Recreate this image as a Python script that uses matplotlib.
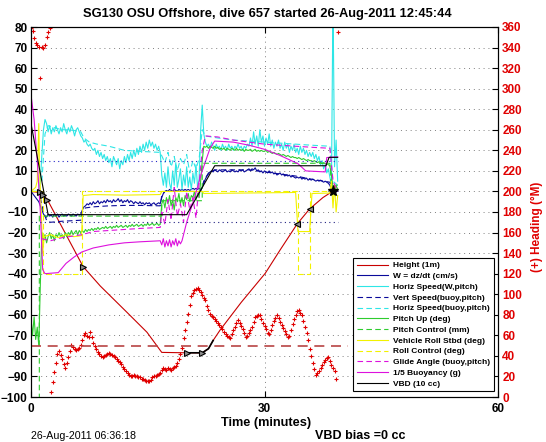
import numpy as np
import matplotlib
matplotlib.use("Agg")
import matplotlib.pyplot as plt

plt.rcParams['font.family'] = ['Liberation Sans', 'DejaVu Sans']

# logged series, one value every 0.2 minutes
step = 0.2

w_dzdt = [0, -1, -2, -3, -4, -5, -7, -9, -11, -12,
          -12.5, -11, -12, -11.5, -12.5, -11, -12, -11, -12.5, -11.5,
          -11, -12, -11.5, -12, -11, -11.5, -12, -11, -11.5, -12,
          -11, -11.5, -11, -9, -7.5, -7, -6, -6.5, -5.5, -6.5,
          -5, -6, -5.5, -4.5, -6, -5, -5.5, -4.5, -5.5, -4,
          -5, -4.5, -5.5, -4, -5, -4.5, -3.5, -5, -4, -5.5,
          -4.5, -5, -4, -5.5, -4.5, -5, -6, -5, -5.5, -6,
          -5, -6, -5.5, -6.5, -5.5, -6, -5.5, -6.5, -6, -5.5,
          -6.5, -6, -5.5, -6, -3, -1, 0, 0.5, 0, 1,
          0.5, 0, 1, 0.5, 0, 1, 0.5, 1, 0.5, 1,
          0.5, 1, 0.5, 1, 1.5, 1, 1.5, 1, 1.5, 1,
          2, 4, 6, 7.5, 8.5, 9.5, 10, 9.5, 10.5, 10,
          9.5, 10.5, 10, 9.5, 10, 10.5, 9.5, 10, 9.5, 10.5,
          10, 9.5, 10, 9.5, 10.5, 10, 10.5, 9.5, 10, 10.5,
          11, 10, 11, 10.5, 11.5, 10, 10.5, 9.5, 10, 9,
          10, 9.5, 9, 10, 9, 9.5, 8.5, 9, 8, 8.5,
          9, 8, 8.5, 7.5, 8, 7.5, 8, 7, 7.5, 7,
          6.5, 7, 6.5, 7, 6, 6.5, 6, 6.5, 5.5, 6,
          5.5, 6, 5.5, 5, 5.5, 5, 5.5, 5, 4.5, 5,
          4.5, 4, 3, 1, 0, -1, 0, 0]

horiz_w = [0, 0, 0, 0, 0, 1, 5, 18, 30, 35,
           33, 29, 32, 28, 31, 29, 32, 30, 28, 31,
           29, 33, 30, 28, 31, 29, 32, 30, 27, 30,
           31, 29, 27, 26, 24, 25, 23, 22, 23, 21,
           20, 21, 18, 20, 17, 19, 16, 18, 15, 17,
           14, 16, 12, 17, 15, 13, 16, 11, 15, 13,
           17, 14, 18, 15, 19, 16, 20, 17, 21, 18,
           22, 19, 23, 20, 24, 21, 25, 22, 24, 21,
           23, 20, 22, 19, 8, 3, 9, 2, 12, 4,
           1, 10, 3, 14, 2, 6, 11, 1, 8, 3,
           12, 2, 7, 1, 9, 4, 13, 2, 6, 30,
           42, 28, 24, 22, 23, 21, 24, 22, 20, 23,
           21, 22, 20, 23, 21, 22, 20, 23, 21, 22,
           20, 22, 21, 23, 21, 22, 20, 22, 21, 23,
           22, 26, 22, 29, 23, 27, 22, 30, 24, 27,
           22, 26, 23, 28, 22, 25, 21, 24, 22, 25,
           21, 23, 20, 24, 21, 23, 19, 22, 20, 23,
           19, 21, 18, 22, 19, 21, 18, 20, 17, 19,
           17, 19, 16, 18, 15, 17, 13, 15, 11, 13,
           9, 11, 7, 3, 95, 12, 25, 5]

pitch_up = [-62, -70, -61, -72, -66, -75, -45, -20, -24, -21,
            -25, -22, -20, -23, -21, -24, -21, -22, -20, -22,
            -21, -23, -20, -22, -20, -21, -19, -21, -20, -19,
            -21, -19, -20, -19, -20, -18.5, -19.5, -18.5, -19, -18,
            -19, -18, -18.5, -17.5, -18.5, -18, -17.5, -18, -17, -18,
            -17.5, -17, -18, -17, -17.5, -16.5, -17.5, -17, -16.5, -17.5,
            -17, -16.5, -17.5, -16.5, -17, -16, -17, -16.5, -16, -17,
            -16.5, -16, -17, -16, -16.5, -15.5, -16.5, -16, -15.5, -16.5,
            -16, -15.5, -16.5, -16, -6, -4, -8, -3, -6, -2,
            -7, -4, -9, -3, -5, -1, -6, -3, -7, -2,
            -4, -1, -5, -2, -3, 0, -4, -1, -3, 5,
            15, 22, 21.5, 22, 21, 22, 21.5, 21, 22, 21,
            21.5, 20.5, 21, 20.5, 21, 20, 21, 20.5, 20, 21,
            20.5, 20, 21, 20, 20.5, 20, 20.5, 19.5, 20.5, 20,
            20, 20.5, 19.5, 20, 20.5, 19.5, 20, 19.5, 20, 19.5,
            19.5, 20, 19, 19.5, 19, 18.5, 19, 18.5, 18, 18.5,
            18, 17.5, 18, 17.5, 17, 17.5, 17, 16.5, 17, 16.5,
            16.5, 16, 16.5, 16, 15.5, 16, 15.5, 15, 15.5, 15,
            15, 14.5, 15, 14.5, 14, 14.5, 14, 13.5, 14, 13.5,
            13.5, 13, 12.5, 8, 2, -2, 3, 1]

heading = [359, 356, 349, 344, 342, 341, 310, 341, 340, 342,
           350, 355, 359, 5, 15, 24, 33, 42, 45, 41,
           37, 32, 28, 33, 39, 45, 51, 49, 47, 46,
           47, 48, 51, 55, 60, 62, 59, 58, 63, 58,
           53, 50, 47, 44, 42, 40, 39, 40, 41, 42,
           43, 42, 41, 40, 39, 37, 35, 34, 32, 29,
           27, 25, 23, 21, 20, 20, 21, 20, 20, 19,
           19, 18, 18, 17, 16, 16, 16, 17, 19, 20,
           20, 21, 22, 23, 26, 28, 27, 26, 28, 27,
           26, 28, 29, 30, 33, 37, 42, 48, 57, 65,
           73, 81, 90, 98, 101, 104, 105, 106, 104, 102,
           99, 96, 94, 89, 85, 81, 79, 78, 76, 74,
           72, 70, 68, 66, 63, 61, 59, 58, 57, 61,
           65, 68, 72, 75, 72, 69, 66, 62, 58, 59,
           62, 65, 68, 73, 78, 79, 80, 80, 76, 72,
           69, 66, 62, 61, 65, 70, 74, 77, 80, 77,
           73, 70, 67, 64, 61, 58, 59, 65, 71, 76,
           80, 84, 85, 82, 80, 74, 68, 62, 55, 47,
           40, 33, 27, 21, 23, 25, 28, 31, 34, 36,
           38, 39, 35, 31, 28, 25, 18, 355]

# slower series given at their turning points
height_t = [0.0, 1.1, 1.5, 2.1, 6.7, 8.9, 12.3, 14.9, 16.8, 20.0, 22.0,
            22.8, 23.4, 24.3, 27.0, 30.1, 32.0, 34.2, 35.8, 37.5, 38.8]
height = [0.0, -0.5, -1.5, -4.0, -36.6, -46.0, -58.7, -68.5, -78.3, -78.5,
          -78.5, -76.5, -72.5, -67.4, -54.0, -39.8, -28.5, -15.8, -8.5, -3.0, 0.2]

vert_buoy_t = [1.2, 1.6, 2.0, 2.5, 4.0, 6.4, 6.6, 7.0, 8.0, 10.0, 12.0, 14.0,
               16.6, 16.8, 17.2, 21.8, 22.2, 22.8, 23.6, 26.0, 28.0, 30.0,
               32.0, 34.0, 36.0, 38.4, 38.8, 39.4]
vert_buoy = [-3, -10, -14, -15, -14.5, -14, -10, -8, -7.5, -7, -6.8, -6.8,
             -7, -2, 0, 0, 5, 9, 10.5, 10.5, 10.5, 9.5, 8.5, 7.5, 6, 4.5, 0, 0]

horiz_buoy_t = [1.4, 1.8, 2.2, 3.0, 4.0, 5.0, 6.4, 6.8, 7.5, 8.5, 10.0, 12.0,
                14.0, 16.6, 17.2, 17.6, 18.0, 18.4, 18.8, 19.2, 19.6, 20.0,
                20.4, 20.8, 21.2, 21.6, 22.0, 22.4, 24.0, 26.0, 28.0, 30.0,
                32.0, 34.0, 36.0, 38.4, 38.8, 39.4]
horiz_buoy = [5, 28, 32, 31, 30, 30, 29, 26, 24, 23, 22, 20, 19.5, 19, 14,
              19, 12, 17, 10, 16, 13, 18, 9, 15, 11, 16, 30, 27, 26, 25,
              24.5, 24, 23.5, 23, 22.5, 22, 5, 3]

pitch_ctl_t = [0.0, 1.07, 1.07, 16.8, 16.8, 22.0, 22.0, 38.4, 38.6, 39.4]
pitch_ctl = [-110, -110, -12, -12, -4.5, -4.5, 13.7, 13.7, 3, 3]

roll_t = [0.0, 0.6, 0.8, 1.0, 1.1, 1.3, 1.5, 1.7, 2.5, 3.5, 4.5, 5.5, 6.5,
          6.7, 8.0, 12.0, 16.6, 16.8, 22.0, 22.2, 34.0, 34.3, 35.8, 36.1,
          38.4, 38.6, 38.8, 39.0, 39.2, 39.4]
roll = [0, 2, 5, 33, 10, -8, -30, -22, -21, -22.5, -21, -22, -21.5, -2,
        -1.5, -1.8, -1.5, 0, 0, -1, -0.5, -19.5, -19.5, -1, -0.8, 5, -8,
        3, -10, -2]

roll_ctl_t = [0.0, 1.55, 1.55, 6.6, 6.6, 34.3, 34.3, 35.8, 35.8, 39.4]
roll_ctl = [0, 0, -40, -40, 0, 0, -40, -40, 0, 0]

glide_t = [1.4, 2.5, 4.0, 6.6, 8.0, 10.0, 12.0, 14.0, 16.6, 16.8, 17.2,
           17.6, 18.0, 18.4, 18.8, 19.2, 19.6, 20.0, 20.4, 20.8, 21.2,
           21.6, 22.0, 22.4, 24.0, 26.0, 28.0, 30.0, 32.0, 34.0, 36.0,
           38.4, 38.8, 39.4]
glide = [-23, -24, -22.5, -21, -19.5, -19, -18.5, -18, -17.5, -10, -16, -4,
         -14, 2, -12, -6, -15, 0, -9, -3, -13, 4, 20, 27, 26.5, 25, 24, 23,
         22.5, 22, 21.5, 21, 5, 0]

buoy_t = [0.0, 0.4, 0.8, 1.2, 1.5, 1.8, 3.5, 4.5, 5.5, 6.5, 8.0, 10.0, 12.0,
          14.0, 16.6, 16.8, 17.0, 17.2, 17.4, 17.6, 17.8, 18.0, 18.2, 18.4,
          18.6, 18.8, 19.0, 19.2, 19.4, 20.0, 21.0, 22.0, 23.0, 23.6, 26.0,
          28.0, 30.0, 32.0, 34.3, 35.3, 37.8, 38.0, 39.4]
buoy = [47, 35, 15, -10, -38, -40, -39.5, -35, -32, -29.5, -27.5, -26, -25,
        -24.5, -24, -26, -23, -27, -24, -26.5, -23.5, -27, -24, -26, -23,
        -26.5, -24, -25.5, -24, -15, -3, 10, 21, 24.5, 24, 22.5, 20.5, 17.5,
        13.5, 10, 9.5, 16.5, 16.8]

vbd_t = [0.0, 2.2, 20.0, 23.6, 37.9, 38.3, 39.4]
vbd = [33, -11.3, -11.3, 12.5, 12.5, 16.6, 16.6]

w_limit = 15          # cm/s guide lines
heading_target = 50   # deg
dive_end = 39.4
heading_line_end = 40.7

t_w = np.arange(len(w_dzdt)) * step
t_hw = np.arange(len(horiz_w)) * step
t_pitch = np.arange(len(pitch_up)) * step
t_head = np.arange(len(heading)) * step

fig = plt.figure(figsize=(5.46, 4.42), dpi=100)
ax = fig.add_axes([31/546, 1-397/442, 467/546, 370/442])
ax2 = ax.twinx()

dash = (5, 3)
lw = 0.8
c_red = '#c80000'
c_navy = '#0a0a9a'
c_cyan = '#2ee6e6'
c_green = '#2ecc2e'
c_yellow = '#f2f200'
c_mag = '#dd11dd'

grid_kw = dict(color='0.5', linestyle=(0, (1, 4)), linewidth=0.7)
for yv in range(-90, 80, 10):
    ax.axhline(yv, **grid_kw, zorder=0)
ax.axvline(30, **grid_kw, zorder=0)

h_height, = ax.plot(height_t, height, color=c_red, lw=lw)
h_w, = ax.plot(t_w, w_dzdt, color=c_navy, lw=lw)
h_hw, = ax.plot(t_hw, horiz_w, color=c_cyan, lw=lw)
h_vb, = ax.plot(vert_buoy_t, vert_buoy, color=c_navy, lw=lw, dashes=dash)
h_hb, = ax.plot(horiz_buoy_t, horiz_buoy, color=c_cyan, lw=lw, dashes=dash)
h_pu, = ax.plot(t_pitch, pitch_up, color=c_green, lw=lw)
h_pc, = ax.plot(pitch_ctl_t, pitch_ctl, color=c_green, lw=lw, dashes=dash)
h_roll, = ax.plot(roll_t, roll, color=c_yellow, lw=lw)
h_rc, = ax.plot(roll_ctl_t, roll_ctl, color=c_yellow, lw=lw, dashes=dash)
h_ga, = ax.plot(glide_t, glide, color=c_mag, lw=lw, dashes=dash)
h_bu, = ax.plot(buoy_t, buoy, color=c_mag, lw=lw)
h_vbd, = ax.plot(vbd_t, vbd, color='k', lw=lw)

# guide lines
ax.plot([0, dive_end], [w_limit, w_limit], color='#2828c8', lw=0.8,
        linestyle=(0, (1, 3)))
ax.plot([0, dive_end], [-w_limit, -w_limit], color='#202080', lw=0.8,
        linestyle=(0, (1, 3)))

# pump segment and event markers on the height trace
ht = np.array(height_t)
hv = np.array(height)
ax.plot(ht[9:13], hv[9:13], color='k', lw=1.2)
ax.plot(ht[[1, 2, 3, 4, 9, 10]], hv[[1, 2, 3, 4, 9, 10]], linestyle='none',
        marker='>', ms=5, mfc='0.55', mec='k', mew=0.8)
ax.plot(ht[[17, 18]], hv[[17, 18]], linestyle='none',
        marker='<', ms=5, mfc='0.55', mec='k', mew=0.8)
ax.plot(ht[[20]], hv[[20]], linestyle='none', marker='*', ms=8, color='k')

ax.set_xlim(0, 60)
ax.set_ylim(-100, 80)
ax.set_xticks([0, 30, 60])
ax.set_yticks(range(-100, 81, 10))
ax.tick_params(direction='in', length=4, width=0.8, top=True, right=False,
               labelsize=8.5, pad=2.5)
ax.tick_params(axis='x', pad=4.5)
for lbl in ax.get_xticklabels() + ax.get_yticklabels():
    lbl.set_fontweight('bold')

# heading on the right axis
ax2.plot(t_head, heading, linestyle='none', marker='+', ms=3.5, mew=0.8,
         color='#e00000')
ax2.plot([0, heading_line_end], [heading_target, heading_target],
         color='#b84444', lw=1.2, dashes=(6, 4))
ax2.set_ylim(0, 360)
ax2.set_yticks(range(0, 361, 20))
ax2.tick_params(direction='in', length=4, width=0.8, colors='k',
                labelcolor='#e00000', labelsize=8.5, pad=3)
for lbl in ax2.get_yticklabels():
    lbl.set_fontweight('bold')
ax2.set_ylabel('(+) Heading (°M)', color='#e00000', fontsize=8.5,
               fontweight='bold', labelpad=3)
ax2.yaxis.set_label_coords(1.07, 0.46)

for sp in list(ax.spines.values()) + list(ax2.spines.values()):
    sp.set_linewidth(0.8)

handles = [h_height, h_w, h_hw, h_vb, h_hb, h_pu, h_pc, h_roll, h_rc, h_ga,
           h_bu, h_vbd]
labels = ['Height (1m)', 'W = dz/dt (cm/s)', 'Horiz Speed(W,pitch)',
          'Vert Speed(buoy,pitch)', 'Horiz Speed(buoy,pitch)',
          'Pitch Up (deg)', 'Pitch Control (mm)', 'Vehicle Roll Stbd (deg)',
          'Roll Control (deg)', 'Glide Angle (buoy,pitch)',
          '1/5 Buoyancy (g)', 'VBD (10 cc)']
leg = ax2.legend(handles, labels, loc='lower right',
                 bbox_to_anchor=(0.991, 0.016), borderaxespad=0,
                 prop={'size': 6, 'weight': 'bold'}, labelspacing=0.35,
                 handlelength=3.8, handletextpad=0.6, borderpad=0.4,
                 fancybox=False, framealpha=1, edgecolor='k')
leg.get_frame().set_linewidth(0.8)

fig.text(267/546, 1-14.5/442,
         'SG130 OSU Offshore, dive 657 started 26-Aug-2011 12:45:44',
         ha='center', va='center', fontsize=9.3, fontweight='bold')
fig.text(266/546, 1-423/442, 'Time (minutes)', ha='center', va='center',
         fontsize=9.2, fontweight='bold')
fig.text(31/546, 1-436/442, '26-Aug-2011 06:36:18', ha='left',
         va='center', fontsize=7.7)
fig.text(315/546, 1-436/442, 'VBD bias =0 cc', ha='left', va='center',
         fontsize=9, fontweight='bold')

fig.savefig('out.png', dpi=100)
